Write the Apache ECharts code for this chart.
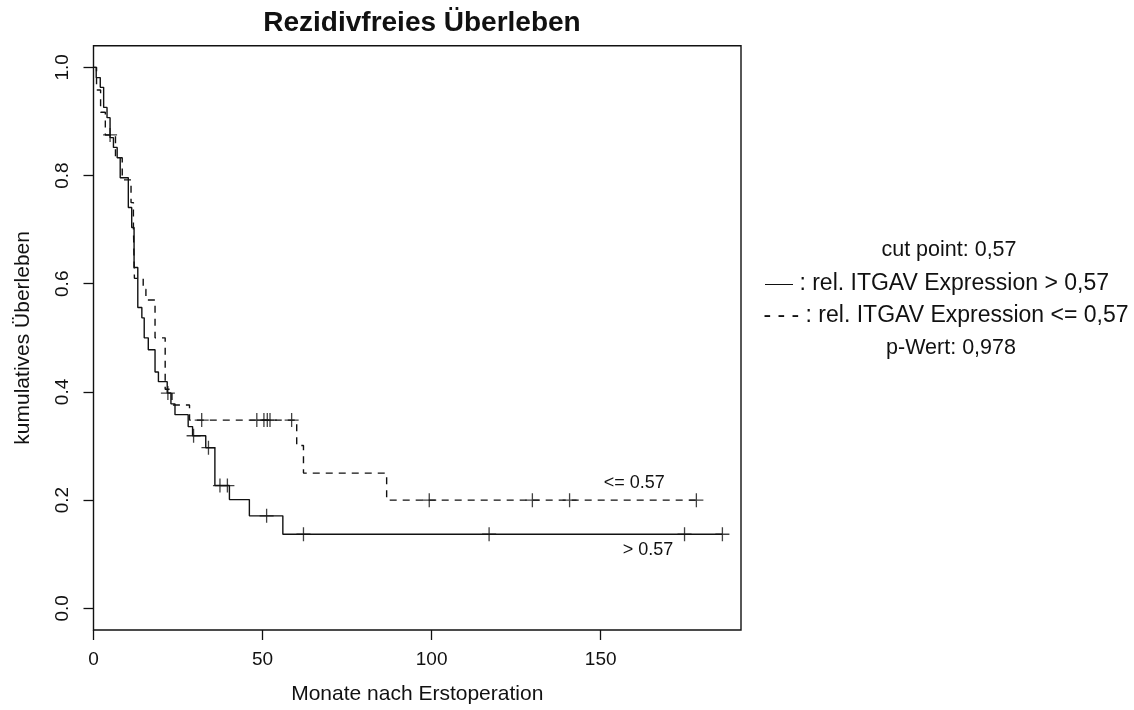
<!DOCTYPE html>
<html><head><meta charset="utf-8">
<script src="https://cdn.jsdelivr.net/npm/echarts@6/dist/echarts.min.js"></script>
<style>html,body{margin:0;padding:0;background:#fff}#c{width:1134px;height:710px}</style>
</head><body><div id="c"></div>
<script>
// ---- data (months, cumulative survival) ----
const solidTimes = [0, 0.8, 2.0, 3.0, 4.0, 4.9, 5.9, 7.0, 7.9, 10.3, 11.3, 12.0, 13.1, 14.3, 15.0, 16.2, 18.2, 19.2, 21.8, 22.9, 24.1, 28.0, 29.3, 33.2, 35.9, 40.2, 46.1, 56.0, 186.0];
const solidSurv  = [1.0, 0.981, 0.963, 0.926, 0.907, 0.870, 0.852, 0.833, 0.796, 0.741, 0.704, 0.630, 0.556, 0.537, 0.500, 0.478, 0.437, 0.419, 0.398, 0.378, 0.358, 0.336, 0.319, 0.297, 0.227, 0.201, 0.171, 0.137, 0.137];
const solidCensTimes = [22.0, 29.6, 34.0, 37.4, 39.6, 51.2, 62.1, 117.0, 174.8, 186.0];
const solidCensSurv  = [0.398, 0.319, 0.297, 0.227, 0.227, 0.171, 0.137, 0.137, 0.137, 0.137];

const dashedTimes = [0, 0.9, 2.1, 3.5, 6.5, 8.5, 11.1, 11.8, 12.1, 14.7, 15.5, 18.2, 21.2, 23.2, 28.4, 60.1, 62.1, 86.7, 178.3];
const dashedSurv  = [1.0, 0.958, 0.917, 0.875, 0.833, 0.792, 0.750, 0.708, 0.610, 0.590, 0.570, 0.500, 0.405, 0.376, 0.348, 0.301, 0.250, 0.200, 0.200];
const dashedCensTimes = [4.9, 32.0, 48.3, 50.4, 51.4, 52.2, 58.6, 99.3, 129.8, 140.8, 178.3];
const dashedCensSurv  = [0.875, 0.348, 0.348, 0.348, 0.348, 0.348, 0.348, 0.200, 0.200, 0.200, 0.200];

const xTicks = [0, 50, 100, 150];
const yTicks = [0, 0.2, 0.4, 0.6, 0.8, 1.0];
const groupLabels = ['<= 0.57', '> 0.57'];
const groupLabelPos = [[159.9, 0.232], [164.0, 0.1075]];
const legendLines = ['cut point: 0,57', ' : rel. ITGAV Expression > 0,57', ' : rel. ITGAV Expression <= 0,57', 'p-Wert: 0,978'];

const FONT = '"Liberation Sans", Arial, Helvetica, sans-serif';
const INK = '#111';
const pairs = (a, b) => a.map((t, i) => [t, b[i]]);
const plus = 'path://M0,6L12,6M6,0L6,12';

const chart = echarts.init(document.getElementById('c'), null, {renderer: 'canvas'});
const option = {
  animation: false,
  backgroundColor: '#fff',
  title: {
    text: 'Rezidivfreies Überleben', left: 417, top: 4, textAlign: 'center',
    textStyle: {fontFamily: FONT, fontSize: 28, fontWeight: 'bold', color: INK}
  },
  grid: {left: 93.5, right: 393, top: 45.7, bottom: 78.3, show: true, borderColor: INK, borderWidth: 1.4},
  xAxis: {
    type: 'value', min: 0, max: 191.5,
    name: 'Monate nach Erstoperation', nameLocation: 'middle', nameGap: 54,
    nameTextStyle: {fontFamily: FONT, fontSize: 21, color: INK},
    axisLine: {show: false, onZero: false}, splitLine: {show: false},
    axisTick: {show: true, length: 10, inside: false, customValues: xTicks, lineStyle: {color: INK, width: 1.3}},
    axisLabel: {customValues: xTicks, margin: 20, fontFamily: FONT, fontSize: 19, color: INK}
  },
  yAxis: {
    type: 'value', min: -0.04, max: 1.04,
    name: 'kumulatives Überleben', nameLocation: 'middle', nameGap: 60, nameRotate: 90,
    nameTextStyle: {fontFamily: FONT, fontSize: 21, color: INK},
    axisLine: {show: false, onZero: false}, splitLine: {show: false},
    axisTick: {show: true, length: 10, inside: false, customValues: yTicks, lineStyle: {color: INK, width: 1.3}},
    axisLabel: {customValues: yTicks, rotate: 90, margin: 21, fontFamily: FONT, fontSize: 19, color: INK,
      formatter: v => Number(v).toFixed(1)}
  },
  series: [
    {type: 'line', data: pairs(dashedTimes, dashedSurv), step: 'end', symbol: 'none',
     lineStyle: {color: INK, width: 1.4, type: [7, 6]}, z: 2},
    {type: 'line', data: pairs(solidTimes, solidSurv), step: 'end', symbol: 'none',
     lineStyle: {color: INK, width: 1.4}, z: 3},
    {type: 'scatter', data: pairs(dashedCensTimes, dashedCensSurv), symbol: plus, symbolSize: 14,
     itemStyle: {color: 'rgba(0,0,0,0)', borderColor: INK, borderWidth: 1.3}, z: 4},
    {type: 'scatter', data: pairs(solidCensTimes, solidCensSurv), symbol: plus, symbolSize: 14,
     itemStyle: {color: 'rgba(0,0,0,0)', borderColor: INK, borderWidth: 1.3}, z: 4}
  ]
};
chart.setOption(option);

const gfx = [];
groupLabels.forEach((s, i) => {
  const p = chart.convertToPixel({gridIndex: 0}, groupLabelPos[i]);
  gfx.push({type: 'text', x: p[0], y: p[1], style: {text: s, fontFamily: FONT, fontSize: 18, fill: INK, align: 'center', verticalAlign: 'middle'}});
});
const legendCenters = [[949, 250], [937, 284], [946, 316], [951, 348]];
gfx.push({type: 'text', x: legendCenters[0][0], y: legendCenters[0][1], style: {text: legendLines[0], fontFamily: FONT, fontSize: 21.5, fill: INK, align: 'center', verticalAlign: 'middle'}});
gfx.push({type: 'text', x: legendCenters[1][0], y: legendCenters[1][1], style: {
  text: '{d|——}' + legendLines[1], fontFamily: FONT, fontSize: 23, fill: INK, align: 'center', verticalAlign: 'middle',
  rich: {d: {fontFamily: FONT, fontSize: 14, fill: INK}}}});
gfx.push({type: 'text', x: legendCenters[2][0], y: legendCenters[2][1], style: {text: '- - -' + legendLines[2], fontFamily: FONT, fontSize: 23, fill: INK, align: 'center', verticalAlign: 'middle'}});
gfx.push({type: 'text', x: legendCenters[3][0], y: legendCenters[3][1], style: {text: legendLines[3], fontFamily: FONT, fontSize: 21.5, fill: INK, align: 'center', verticalAlign: 'middle'}});
chart.setOption({graphic: gfx});
</script>
</body></html>
